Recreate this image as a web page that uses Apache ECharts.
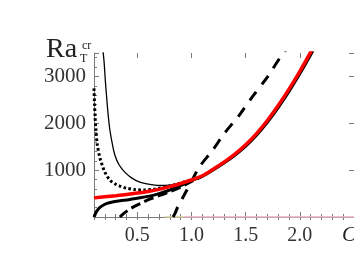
<!DOCTYPE html>
<html>
<head>
<meta charset="utf-8">
<script src="https://cdn.jsdelivr.net/npm/echarts@6/dist/echarts.min.js"></script>
<style>html,body{margin:0;padding:0;background:#fff}#c{width:354px;height:260px}</style>
</head>
<body>
<div id="c"></div>
<script>
// ---- data ----
var xTickLabels = [0.5, 1.0, 1.5, 2.0];
var yTickLabels = [1000, 2000, 3000];

var redCurve = [[0.1,408],[0.2,432],[0.3,455],[0.4,480],[0.5,510],[0.6,545],[0.7,590],[0.8,648],[0.9,715],[1.0,790],[1.1,880],[1.2,1020],[1.3,1170],[1.4,1340],[1.5,1540],[1.6,1780],[1.7,2060],[1.8,2380],[1.9,2730],[2.0,3110],[2.1,3520],[2.15,3740]];

var thinCurve = [[0.175,3700],[0.192,3340],[0.205,2900],[0.219,2489],[0.232,2150],[0.247,1851],[0.27,1550],[0.293,1319],[0.33,1120],[0.384,957],[0.45,830],[0.522,745],[0.6,700],[0.7,672],[0.8,682],[0.89,712],[0.95,748],[1.0,786]];

var dottedCurve = [[0.1,2745],[0.105,2400],[0.11,2150],[0.118,1851],[0.13,1550],[0.155,1255],[0.18,1080],[0.2,957],[0.247,787],[0.3,700],[0.339,660],[0.4,615],[0.476,585],[0.56,578],[0.66,595],[0.75,635],[0.843,690],[0.95,760],[1.0,795]];

var thickCurve = [[0.1,0],[0.115,80],[0.13,140],[0.15,195],[0.18,245],[0.22,290],[0.27,320],[0.34,345],[0.42,370],[0.5,400],[0.6,440],[0.7,500],[0.78,560],[0.86,635],[0.95,725],[1.0,780],[1.1,868],[1.2,1003],[1.3,1150],[1.4,1315],[1.5,1510],[1.6,1745],[1.7,2020],[1.8,2335],[1.9,2680],[2.0,3055],[2.1,3460],[2.15,3680]];

var dashedCurve = [[0.339,0],[0.37,65],[0.4,120],[0.46,210],[0.53,290],[0.614,380],[0.7,455],[0.8,540],[0.9,640],[1.0,760],[1.1,870]];

var steepCurve = [[0.83,0],[0.85,90],[0.874,220],[0.93,460],[1.0,760],[1.073,1070],[1.2,1440],[1.3,1775],[1.44,2170],[1.56,2560],[1.7,2985],[1.82,3410],[1.9,3650]];

var tanBase = [[0.75,0],[0.93,0]];
var pinkBase = [[0.93,0],[2.5,0]];

// ---- chart ----
var chart = echarts.init(document.getElementById('c'), null, {renderer:'canvas'});
var gray = '#7a7a7a';
var font = '"Liberation Serif", "Times New Roman", "DejaVu Serif", serif';
var X0 = 0.1, X1 = 2.5, Y0 = 0, Y1 = 3500;

function xa(pos, opts){
  return Object.assign({type:'value', position:pos, min:X0, max:X1, splitLine:{show:false},
    axisLine:{show:false, lineStyle:{color:gray, width:1}},
    axisTick:{show:true, inside:true, length:3, lineStyle:{color:gray}},
    axisLabel:{show:false}}, opts);
}
function ya(pos, opts){
  return Object.assign({type:'value', position:pos, min:Y0, max:Y1, splitLine:{show:false},
    axisLine:{show:false, lineStyle:{color:gray, width:1}},
    axisTick:{show:true, inside:true, length:3, lineStyle:{color:gray}},
    axisLabel:{show:false}}, opts);
}

var xAxes = [
  xa('bottom', {interval:0.1, axisLine:{show:true, lineStyle:{color:gray}},
    axisLabel:{show:true, customValues:xTickLabels, margin:9, color:'#333', fontFamily:font, fontSize:20,
      formatter:function(v){return Number(v).toFixed(1);}}}),
  xa('bottom', {axisTick:{show:true, inside:true, length:5, customValues:[0.5,1.0,1.5,2.0,2.5], lineStyle:{color:gray}}}),
  xa('top', {interval:0.1, axisLine:{show:true, lineStyle:{color:gray}}}),
  xa('top', {axisTick:{show:true, inside:true, length:5, customValues:[0.5,1.0,1.5,2.0,2.5], lineStyle:{color:gray}}})
];
var yAxes = [
  ya('left', {interval:1000, axisLine:{show:true, lineStyle:{color:gray}},
    axisTick:{show:true, inside:true, length:5, lineStyle:{color:gray}},
    axisLabel:{show:true, margin:8, color:'#333', fontFamily:font, fontSize:21,
      customValues:yTickLabels, formatter:function(v){return String(Math.round(v));}}}),
  ya('left', {interval:200}),
  ya('right', {interval:1000, axisLine:{show:true, lineStyle:{color:gray}},
    axisTick:{show:true, inside:true, length:5, lineStyle:{color:gray}}})
];

function ln(data, style, z, clip){
  return {type:'line', data:data, xAxisIndex:0, yAxisIndex:0, showSymbol:false, symbol:'none',
    smooth:0.3, clip: clip !== false, z:z, lineStyle:style, silent:true, animation:false};
}

chart.setOption({
  animation:false,
  grid:{left:94, top:53, width:263, height:164, containLabel:false},
  xAxis:xAxes,
  yAxis:yAxes,
  graphic:[
    {type:'text', x:46, y:50, style:{text:'Ra', fontFamily:font, fontSize:28, fill:'#222', verticalAlign:'middle'}},
    {type:'text', x:82, y:46, style:{text:'cr', fontFamily:font, fontSize:12, fill:'#222', verticalAlign:'middle'}},
    {type:'text', x:80, y:59, style:{text:'T', fontFamily:font, fontSize:12, fill:'#222', verticalAlign:'middle'}},
    {type:'text', x:342, y:235, style:{text:'C', fontFamily:font, fontSize:21, fontStyle:'italic', fill:'#222', verticalAlign:'middle'}}
  ],
  series:[
    ln(tanBase, {color:'#d6cf9e', width:1.5}, 3, false),
    ln(pinkBase, {color:'#e6aebb', width:1.5}, 3, false),
    ln(thickCurve, {color:'#000', width:3}, 4),
    ln(dashedCurve, {color:'#000', width:3, type:[10,4.5]}, 5),
    ln(steepCurve, {color:'#000', width:3, type:[11,9]}, 5),
    ln(dottedCurve, {color:'#000', width:3, type:[2.6,2.4]}, 5),
    ln(thinCurve, {color:'#000', width:1.3}, 6),
    ln(redCurve, {color:'#ff0000', width:3.5}, 8)
  ]
});
</script>
</body>
</html>
